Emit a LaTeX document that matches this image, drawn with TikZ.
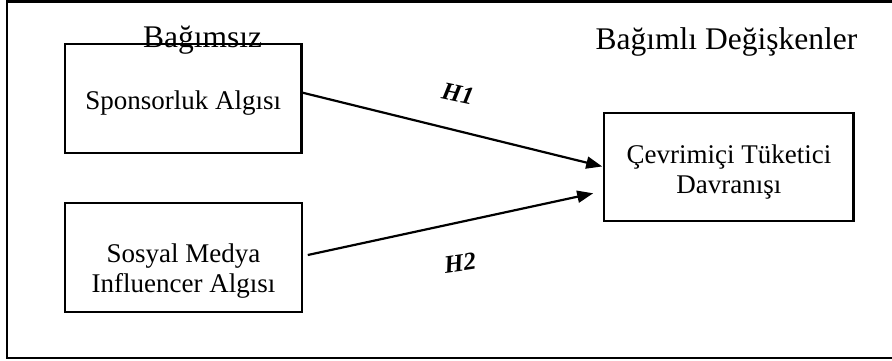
\documentclass[tikz,border=0pt]{standalone}
\usepackage{fontspec}
\setmainfont{Liberation Serif}
\usetikzlibrary{arrows.meta}
\tikzset{
  boxnode/.style={draw, line width=2.2pt, rectangle, inner sep=0pt},
  boxtext/.style={anchor=base, inner sep=0pt, font=\fontsize{27pt}{30pt}\selectfont},
  titletext/.style={anchor=base, inner sep=0pt, font=\fontsize{31.5pt}{36pt}\selectfont},
  hyplabel/.style={inner sep=0pt, font=\fontsize{25pt}{28pt}\selectfont\bfseries\itshape},
  arr/.style={line width=2.2pt, -{Triangle[length=16pt,width=12pt]}},
  frameline/.style={line width=2.2pt}
}
\begin{document}
\begin{tikzpicture}[x=1pt,y=-1pt]
\useasboundingbox (0,0) rectangle (892,361);
% outer frame (open at the right edge)
\coordinate (fa) at (892,1.5);
\coordinate (fb) at (7.3,1.5);
\coordinate (fc) at (7.3,358);
\coordinate (fd) at (892,358);
\draw[frameline] (fa) -- (fb) -- (fc) -- (fd);
% boxes
\node[boxnode, minimum width=236.5pt, minimum height=109pt] (b1) at (183.25,98.8) {};
\node[boxnode, minimum width=237pt, minimum height=108.4pt] (b2) at (183.5,257.5) {};
\node[boxnode, minimum width=249.2pt, minimum height=108pt] (b3) at (728.9,166.7) {};
% box texts
\node[boxtext] (t1) at ([yshift=-11.2pt]b1.center) {Sponsorluk Algısı};
\node[boxtext] (t2a) at ([yshift=-4.5pt]b2.center) {Sosyal Medya};
\node[boxtext] (t2b) at ([yshift=-34.5pt]b2.center) {Influencer Algısı};
\node[boxtext] (t3a) at ([yshift=3.7pt]b3.center) {Çevrimiçi Tüketici};
\node[boxtext] (t3b) at ([yshift=-26.3pt]b3.center) {Davranışı};
% titles
\node[titletext] (ti1) at (202.5,47.3) {Bağımsız};
\node[titletext] (ti2) at (726.5,49.3) {Bağımlı Değişkenler};
% arrows
\draw[arr, shorten >=1pt] ([yshift=6.1pt]b1.east) -- (b3.west);
\draw[arr] ([xshift=4.7pt,yshift=2.5pt]b2.east) -- ([xshift=-10pt,yshift=-26.6pt]b3.west);
% hypothesis labels
\node[hyplabel, rotate=-12] (h1) at (458,94) {H1};
\node[hyplabel, rotate=8] (h2) at (460,263) {H2};
\end{tikzpicture}
\end{document}
